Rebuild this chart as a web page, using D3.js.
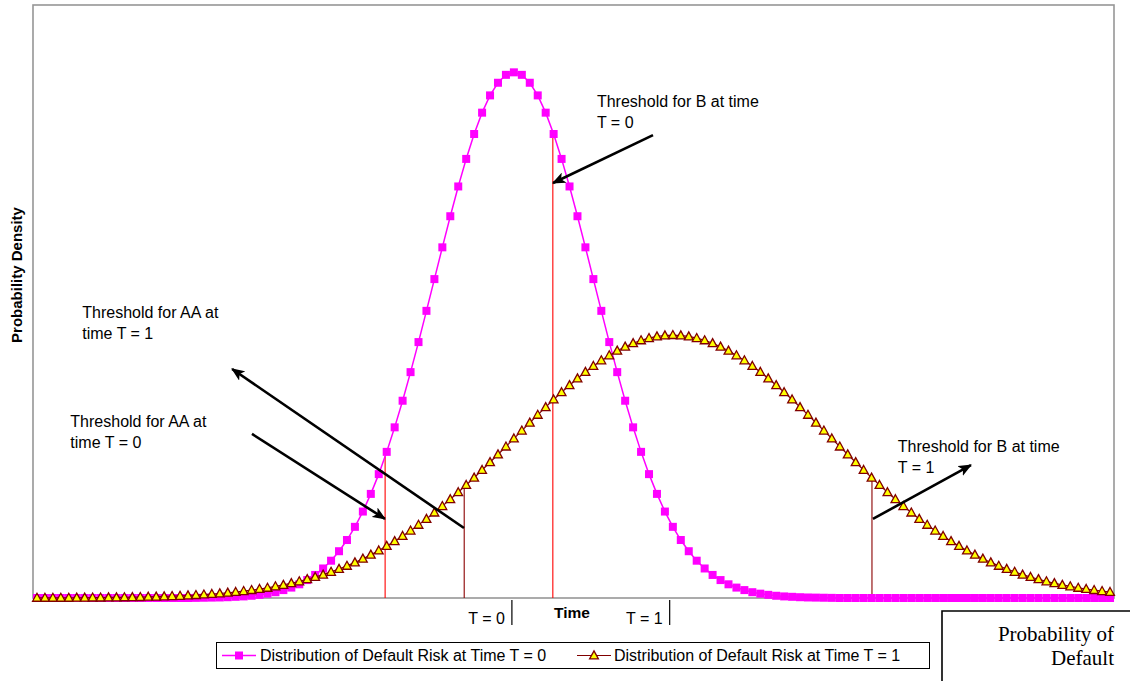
<!DOCTYPE html>
<html>
<head>
<meta charset="utf-8">
<script src="https://cdn.jsdelivr.net/npm/d3@7"></script>
<style>
  html, body { margin: 0; padding: 0; background: #fff; }
  svg { display: block; }
  text { font-family: "Liberation Sans", Arial, sans-serif; fill: #000; }
</style>
</head>
<body>
<svg id="chart" width="1130" height="681"></svg>
<script>
// ---------------- DATA ----------------
// category index (time steps along the horizontal axis)
const categories = d3.range(136);

// Distribution of Default Risk at Time T = 0 (magenta squares)
const seriesT0 = [
  0,0,0,0,0,0,0,0,0,0,
  0,0,0,0,0,0,0,0,0,0,
  0.00001,0.00002,0.00003,0.00004,0.00006,0.00009,0.00012,0.00017,0.00024,0.00033,
  0.00044,0.00060,0.00079,0.00104,0.00136,0.00175,0.00224,0.00283,0.00355,0.00440,
  0.00540,0.00656,0.00790,0.00940,0.01109,0.01295,0.01497,0.01714,0.01942,0.02179,
  0.02420,0.02661,0.02897,0.03123,0.03332,0.03521,0.03683,0.03814,0.03910,0.03970,
  0.03989,0.03970,0.03910,0.03814,0.03683,0.03521,0.03332,0.03123,0.02897,0.02661,
  0.02420,0.02179,0.01942,0.01714,0.01497,0.01295,0.01109,0.00940,0.00790,0.00656,
  0.00540,0.00440,0.00355,0.00283,0.00224,0.00175,0.00136,0.00104,0.00079,0.00060,
  0.00044,0.00033,0.00024,0.00017,0.00012,0.00009,0.00006,0.00004,0.00003,0.00002,
  0.00001,0,0,0,0,0,0,0,0,0,
  0,0,0,0,0,0,0,0,0,0,
  0,0,0,0,0,0,0,0,0,0,
  0,0,0,0,0,0
];

// Distribution of Default Risk at Time T = 1 (yellow triangles)
const seriesT1 = [
  0.00001,0.00001,0.00001,0.00001,0.00001,0.00002,0.00002,0.00003,0.00003,0.00004,
  0.00004,0.00005,0.00006,0.00007,0.00009,0.00010,0.00012,0.00014,0.00016,0.00019,
  0.00022,0.00026,0.00030,0.00034,0.00040,0.00045,0.00052,0.00060,0.00068,0.00077,
  0.00088,0.00099,0.00112,0.00126,0.00142,0.00159,0.00177,0.00198,0.00220,0.00244,
  0.00270,0.00298,0.00328,0.00360,0.00395,0.00431,0.00470,0.00511,0.00555,0.00600,
  0.00648,0.00697,0.00749,0.00802,0.00857,0.00913,0.00971,0.01030,0.01089,0.01149,
  0.01210,0.01270,0.01330,0.01390,0.01448,0.01506,0.01561,0.01615,0.01666,0.01715,
  0.01760,0.01803,0.01841,0.01876,0.01907,0.01933,0.01955,0.01972,0.01985,0.01992,
  0.01995,0.01992,0.01985,0.01972,0.01955,0.01933,0.01907,0.01876,0.01841,0.01803,
  0.01760,0.01715,0.01666,0.01615,0.01561,0.01506,0.01448,0.01390,0.01330,0.01270,
  0.01210,0.01149,0.01089,0.01030,0.00971,0.00913,0.00857,0.00802,0.00749,0.00697,
  0.00648,0.00600,0.00555,0.00511,0.00470,0.00431,0.00395,0.00360,0.00328,0.00298,
  0.00270,0.00244,0.00220,0.00198,0.00177,0.00159,0.00142,0.00126,0.00112,0.00099,
  0.00088,0.00077,0.00068,0.00060,0.00052,0.00045
];

const seriesNames = ["Distribution of Default Risk at Time T = 0", "Distribution of Default Risk at Time T = 1"];

// time axis marks (category position) and their labels
const timeTickPos = [59.75, 79.6];
const timeTickLabels = ["T = 0", "T = 1"];

// threshold positions (category index) and which distribution they sit on
const thresholds = [
  { idx: 43.8, series: 0 },   // AA at T=0
  { idx: 53.75, series: 1 },  // AA at T=1
  { idx: 64.9, series: 0 },   // B at T=0
  { idx: 105.05, series: 1 }  // B at T=1
];

// annotation labels (lines) and arrows, in data coordinates [index, density]
const annotations = [
  { lines: ["Threshold for B at time", "T = 0"], at: [70.45, 0.03728], from: [77.5, 0.03513], to: [64.92, 0.03149] },
  { lines: ["Threshold for AA at", "time T = 1"], at: [5.7, 0.02125], from: [53.72, 0.00531], to: [24.55, 0.01738] },
  { lines: ["Threshold for AA at", "time T = 0"], at: [4.2, 0.01298], from: [27.05, 0.01245], to: [43.78, 0.00600] },
  { lines: ["Threshold for B at time", "T = 1"], at: [108.3, 0.01108], from: [105.17, 0.00600], to: [117.5, 0.01009] }
];

// ---------------- LAYOUT ----------------
const plot = { left: 33, top: 5, right: 1114, bottom: 598 };
const svg = d3.select("#chart");

const x = d3.scaleLinear().domain([-0.5, categories.length - 0.5]).range([plot.left, plot.right]);
const y = d3.scaleLinear().domain([0, 0.045]).range([plot.bottom, plot.top]);

// plot area frame
svg.append("rect")
  .attr("x", plot.left).attr("y", plot.top)
  .attr("width", plot.right - plot.left).attr("height", plot.bottom - plot.top)
  .attr("fill", "#fff").attr("stroke", "#969696").attr("stroke-width", 1.6);

// threshold vertical lines
function interp(series, idx) {
  const i0 = Math.floor(idx), i1 = Math.min(series.length - 1, i0 + 1);
  const t = idx - i0;
  return series[i0] * (1 - t) + series[i1] * t;
}
const allSeries = [seriesT0, seriesT1];
const thrColors = ["#ff0000", "#8b0000"];
svg.append("g").selectAll("line").data(thresholds).join("line")
  .attr("x1", d => x(d.idx)).attr("x2", d => x(d.idx))
  .attr("y1", d => y(interp(allSeries[d.series], d.idx)))
  .attr("y2", y(0))
  .attr("stroke", d => thrColors[d.series]).attr("stroke-width", 1.1);

// series 0 : magenta squares
const line = d3.line().x((d, i) => x(i)).y(d => y(d));
svg.append("path").datum(seriesT0)
  .attr("d", line).attr("fill", "none").attr("stroke", "#ff00ff").attr("stroke-width", 1.5);
const sq = 8;
svg.append("g").selectAll("rect").data(seriesT0).join("rect")
  .attr("x", (d, i) => x(i) - sq / 2).attr("y", d => y(d) - sq / 2)
  .attr("width", sq).attr("height", sq)
  .attr("fill", "#ff00ff");

// series 1 : yellow triangles with dark red outline
svg.append("path").datum(seriesT1)
  .attr("d", line).attr("fill", "none").attr("stroke", "#800000").attr("stroke-width", 1.2);
const tri = (cx, cy) => `M${cx},${cy - 4.6}L${cx + 4.4},${cy + 3.4}L${cx - 4.4},${cy + 3.4}Z`;
svg.append("g").selectAll("path").data(seriesT1).join("path")
  .attr("d", (d, i) => tri(x(i), y(d)))
  .attr("fill", "#ffff00").attr("stroke", "#800000").attr("stroke-width", 1.3)
  .attr("stroke-linejoin", "miter");

// time tick marks and labels below axis
svg.append("g").selectAll("line").data(timeTickPos).join("line")
  .attr("x1", d => x(d)).attr("x2", d => x(d))
  .attr("y1", plot.bottom + 2).attr("y2", plot.bottom + 27)
  .attr("stroke", "#000").attr("stroke-width", 1.2);
svg.append("g").selectAll("text").data(timeTickPos).join("text")
  .attr("x", d => x(d) - 7).attr("y", plot.bottom + 26)
  .attr("text-anchor", "end").attr("font-size", 16)
  .text((d, i) => timeTickLabels[i]);

// axis titles
svg.append("text").attr("x", 572).attr("y", 618)
  .attr("text-anchor", "middle").attr("font-size", 15.5).attr("font-weight", "bold").text("Time");
svg.append("text")
  .attr("transform", "translate(22,275) rotate(-90)")
  .attr("text-anchor", "middle").attr("font-size", 15).attr("font-weight", "bold")
  .text("Probability Density");

// annotations: text + arrows
const defs = svg.append("defs");
defs.append("marker").attr("id", "arrow")
  .attr("viewBox", "0 0 12 10").attr("refX", 11).attr("refY", 5)
  .attr("markerWidth", 5.2).attr("markerHeight", 4.4).attr("orient", "auto")
  .attr("markerUnits", "strokeWidth")
  .append("path").attr("d", "M0,0 L12,5 L0,10 L3,5 Z").attr("fill", "#000");

const ann = svg.append("g");
annotations.forEach(a => {
  const t = ann.append("text").attr("font-size", 16);
  a.lines.forEach((ln, k) => {
    t.append("tspan").attr("x", x(a.at[0])).attr("y", y(a.at[1]) + k * 21).text(ln);
  });
  ann.append("line")
    .attr("x1", x(a.from[0])).attr("y1", y(a.from[1]))
    .attr("x2", x(a.to[0])).attr("y2", y(a.to[1]))
    .attr("stroke", "#000").attr("stroke-width", 2.6)
    .attr("marker-end", "url(#arrow)");
});

// legend
const lg = svg.append("g");
lg.append("rect").attr("x", 216.5).attr("y", 642.5).attr("width", 713).attr("height", 26)
  .attr("fill", "#fff").attr("stroke", "#000").attr("stroke-width", 1);
// entry 0
lg.append("line").attr("x1", 222).attr("x2", 256).attr("y1", 655.5).attr("y2", 655.5)
  .attr("stroke", "#ff00ff").attr("stroke-width", 1.5);
lg.append("rect").attr("x", 239 - sq / 2).attr("y", 655.5 - sq / 2).attr("width", sq).attr("height", sq)
  .attr("fill", "#ff00ff");
lg.append("text").attr("x", 260).attr("y", 661).attr("font-size", 16).text(seriesNames[0]);
// entry 1
lg.append("line").attr("x1", 577).attr("x2", 611).attr("y1", 655.5).attr("y2", 655.5)
  .attr("stroke", "#800000").attr("stroke-width", 1.2);
lg.append("path").attr("d", tri(594, 655.5))
  .attr("fill", "#ffff00").attr("stroke", "#800000").attr("stroke-width", 1.3);
lg.append("text").attr("x", 614).attr("y", 661).attr("font-size", 16).text(seriesNames[1]);

// "Probability of Default" box at bottom right
svg.append("path").attr("d", "M942,690 L942,611 L1140,611")
  .attr("fill", "none").attr("stroke", "#000").attr("stroke-width", 1.6);
const pd = svg.append("text").attr("text-anchor", "end")
  .style("font-family", "'Liberation Serif', 'Times New Roman', serif").attr("font-size", 21);
pd.append("tspan").attr("x", 1114).attr("y", 641).text("Probability of");
pd.append("tspan").attr("x", 1114).attr("y", 665).text("Default");
</script>
</body>
</html>
